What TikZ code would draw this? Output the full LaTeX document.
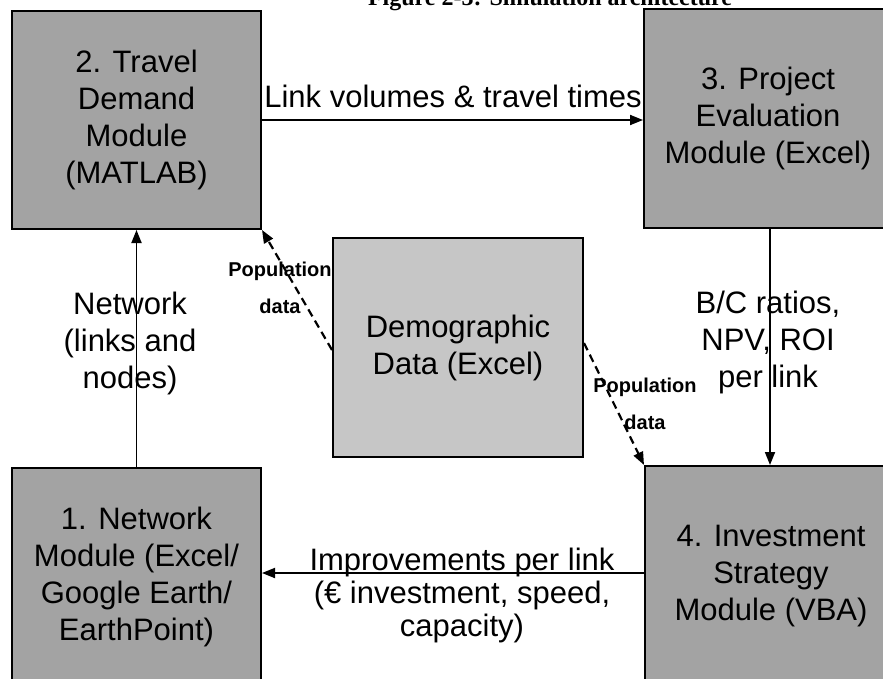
\documentclass[tikz,border=0pt]{standalone}
\usepackage{fontspec}
\setmainfont{Liberation Sans}
\newfontfamily\titlefont{Liberation Serif}
\usetikzlibrary{arrows.meta}
\definecolor{boxdark}{HTML}{A3A3A3}
\definecolor{boxlight}{HTML}{C6C6C6}
\begin{document}
\begin{tikzpicture}[x=1pt,y=-1pt,
  modbox/.style={draw=black, line width=2pt, fill=boxdark, inner sep=0pt, align=center,
    font=\fontsize{31}{37}\selectfont},
  datbox/.style={modbox, fill=boxlight},
  flow/.style={line width=1.8pt, -{Triangle[length=13pt,width=10pt]}},
  dflow/.style={flow, line width=2.2pt, dash pattern=on 8pt off 5pt},
  lbl/.style={align=center, inner sep=0pt, font=\fontsize{31}{37}\selectfont},
  poplbl/.style={align=center, inner sep=0pt, font=\fontsize{20}{37}\selectfont\bfseries}]
\useasboundingbox (0,0) rectangle (883,679);
\fill[white] (0,0) rectangle (883,679);
% title (cut off at the top, as in the reference)
\node[anchor=base, inner sep=0pt, font={\titlefont\bfseries\fontsize{24}{28}\selectfont}] (title) at (550,6) {Figure 2-3: Simulation architecture};
% modules
\node[modbox, minimum width=249pt, minimum height=218pt] (b2) at (136.5,120) {2. Travel\\Demand\\Module\\(MATLAB)};
\node[modbox, minimum width=248pt, minimum height=219pt] (b3) at (768,118.5) {3. Project\\Evaluation\\Module (Excel)};
\node[datbox, minimum width=250pt, minimum height=219pt] (demo) at (458,347.5) {Demographic\\Data (Excel)};
\node[modbox, minimum width=249pt, minimum height=218pt] (b1) at (136.5,577) {1. Network\\Module (Excel/\\Google Earth/\\EarthPoint)};
\node[modbox, minimum width=252pt, minimum height=220pt] (b4) at (771,576) {4. Investment\\Strategy\\Module (VBA)};
% connectors
\draw[flow] (b2.east) -- (b2.east -| b3.west);
\draw[flow] (b1.north) -- (b2.south);
\draw[flow] ([xshift=2pt]b3.south) -- ([xshift=2pt]b3.south |- b4.north);
\draw[flow] ([yshift=3pt]b4.west) -- ([yshift=3pt]b4.west -| b1.east);
\draw[dflow] ([yshift=-2.5pt]demo.west) -- (b2.south east);
\draw[dflow] ([yshift=4.5pt]demo.east) -- (b4.north west);
% labels
\node[lbl] (l1) at (453,96) {Link volumes \& travel times};
\node[lbl] (l2) at (130,343) {Network\\(links and\\nodes)};
\node[lbl] (l3) at (768,342) {B/C ratios,\\NPV, ROI\\per link};
\node[lbl, font=\fontsize{31}{33}\selectfont] (l4) at (462,595) {Improvements per link\\(€ investment, speed,\\capacity)};
\node[poplbl] (p1) at (280,288) {Population\\data};
\node[poplbl] (p2) at (645,404) {Population\\data};
\end{tikzpicture}
\end{document}
